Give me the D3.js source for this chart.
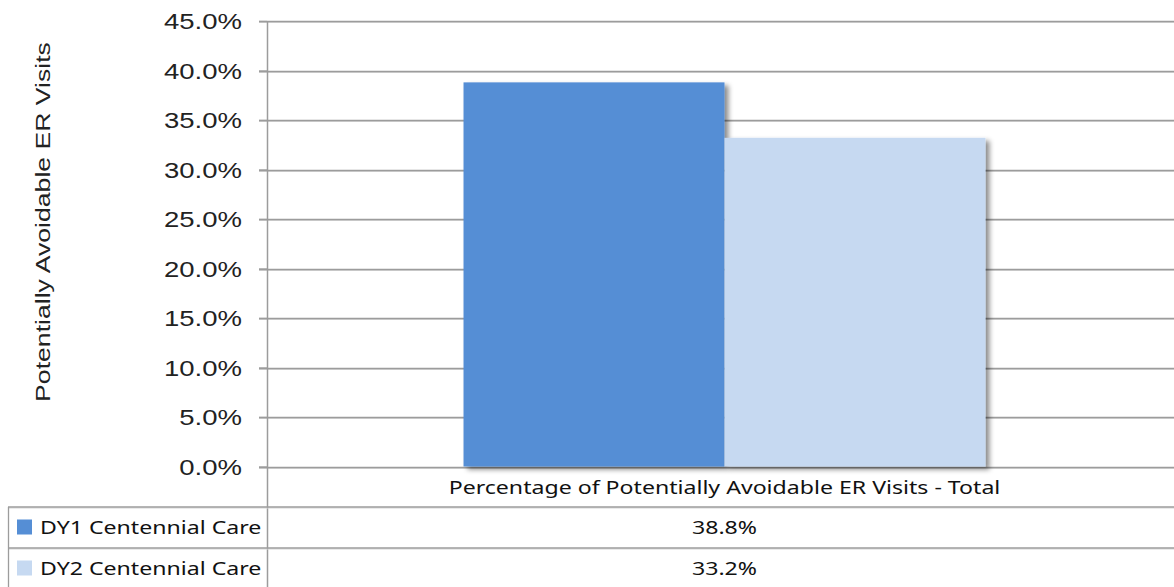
<!DOCTYPE html>
<html><head><meta charset="utf-8">
<script src="https://cdn.jsdelivr.net/npm/d3@7"></script>
<style>html,body{margin:0;padding:0;background:#fff;overflow:hidden}</style>
</head><body>
<svg id="c" width="1174" height="587"></svg>
<script>
const categories = ["Percentage of Potentially Avoidable ER Visits - Total"];
const seriesNames = ["DY1 Centennial Care", "DY2 Centennial Care"];
const seriesValues = [[38.8], [33.2]];
const seriesColors = ["#558ED5", "#C6D9F1"];
const yTicks = [0, 5, 10, 15, 20, 25, 30, 35, 40, 45];
const yTitle = "Potentially Avoidable ER Visits";

const W = 1174, H = 587;
const SX = 1.3; // horizontal text stretch seen in the reference
const svg = d3.select("#c");
const defs = svg.append("defs");
const f = defs.append("filter").attr("id","sh").attr("x","-10%").attr("y","-10%").attr("width","130%").attr("height","130%");
f.append("feDropShadow").attr("dx",4).attr("dy",3).attr("stdDeviation",2.5).attr("flood-color","#000").attr("flood-opacity",0.45);

const axisX = 267, plotTop = 21, plotBottom = 466.5, plotRight = 1182;
const y = d3.scaleLinear().domain([0,45]).range([plotBottom, plotTop]);
const x0 = d3.scaleBand().domain(categories).range([axisX, plotRight]).paddingOuter(0.3765).paddingInner(0);
const x1 = d3.scaleBand().domain(seriesNames).range([0, x0.bandwidth()]);

const lineCol = "#9c9c9c", lineCol2 = "#d6d6d6";
function hline(yy, xa, xb){
  svg.append("line").attr("x1",xa).attr("x2",xb).attr("y1",yy+1).attr("y2",yy+1).attr("stroke",lineCol2).attr("stroke-width",1);
  svg.append("line").attr("x1",xa).attr("x2",xb).attr("y1",yy).attr("y2",yy).attr("stroke",lineCol).attr("stroke-width",1.3);
}
function stretch(sel, k){
  sel.each(function(){ const n=this.getComputedTextLength(); d3.select(this).attr("textLength", n*k).attr("lengthAdjust","spacingAndGlyphs"); });
}

// gridlines
yTicks.forEach(t => hline(Math.round(y(t))+0.5, axisX-8, W));

// bars
const g = svg.append("g");
seriesNames.forEach((s,i) => {
  categories.forEach((c,j) => {
    g.append("rect").attr("x", x0(c)+x1(s)).attr("y", y(seriesValues[i][j]))
     .attr("width", x1.bandwidth()).attr("height", y(0)-y(seriesValues[i][j]))
     .attr("fill", seriesColors[i]).attr("filter","url(#sh)");
  });
});

// y axis via d3
const yAxis = d3.axisLeft(y).tickValues(yTicks).tickSize(8).tickPadding(17).tickFormat(d => d3.format(".1f")(d) + "%");
const ax = svg.append("g").attr("transform", `translate(${axisX},0)`).call(yAxis);
ax.select(".domain").remove();
ax.selectAll(".tick line").attr("stroke", lineCol).attr("stroke-width",1.3);
ax.selectAll(".tick text").attr("font-family","Liberation Sans, Arial, sans-serif").attr("font-size",22).attr("fill","#222").attr("dy","0.36em");
ax.selectAll(".tick text").call(stretch, 1.25);

// vertical axis line
svg.append("line").attr("x1",axisX+0.5).attr("x2",axisX+0.5).attr("y1",plotTop).attr("y2",H).attr("stroke",lineCol).attr("stroke-width",1.5);

// y title
const yt = svg.append("text").attr("transform",`translate(50,222) rotate(-90)`).attr("text-anchor","middle")
  .attr("font-family","Liberation Sans, Arial, sans-serif").attr("font-size",20).attr("fill","#222").text(yTitle);
yt.call(stretch, 1.33);

// data table
const rowTop = 507, rowH = 41;
hline(rowTop, 8, W);
hline(rowTop+rowH, 8, W);
svg.append("line").attr("x1",8.5).attr("x2",8.5).attr("y1",rowTop).attr("y2",H).attr("stroke",lineCol).attr("stroke-width",1.3);

const tf = "Noto Sans, Open Sans, sans-serif";
categories.forEach(c => {
  const t = svg.append("text").attr("x", x0(c)+x0.bandwidth()/2).attr("y", 488).attr("dy","0.35em")
    .attr("text-anchor","middle").attr("font-family",tf).attr("font-size",17.5).attr("fill","#111").text(c);
  t.call(stretch, 1.32);
});
seriesNames.forEach((s,i) => {
  const cy = rowTop + rowH*i + rowH/2;
  svg.append("rect").attr("x",17).attr("y",cy-8).attr("width",15).attr("height",15).attr("fill",seriesColors[i]);
  const t = svg.append("text").attr("x",40).attr("y",cy).attr("dy","0.35em").attr("font-family",tf).attr("font-size",17.5).attr("fill","#111").text(s);
  t.call(stretch, 1.32);
  categories.forEach((c,j) => {
    const v = svg.append("text").attr("x", x0(c)+x0.bandwidth()/2).attr("y", cy).attr("dy","0.35em").attr("text-anchor","middle")
      .attr("font-family",tf).attr("font-size",17.5).attr("fill","#111").text(d3.format(".1f")(seriesValues[i][j]) + "%");
    v.call(stretch, 1.32);
  });
});
</script>
</body></html>
